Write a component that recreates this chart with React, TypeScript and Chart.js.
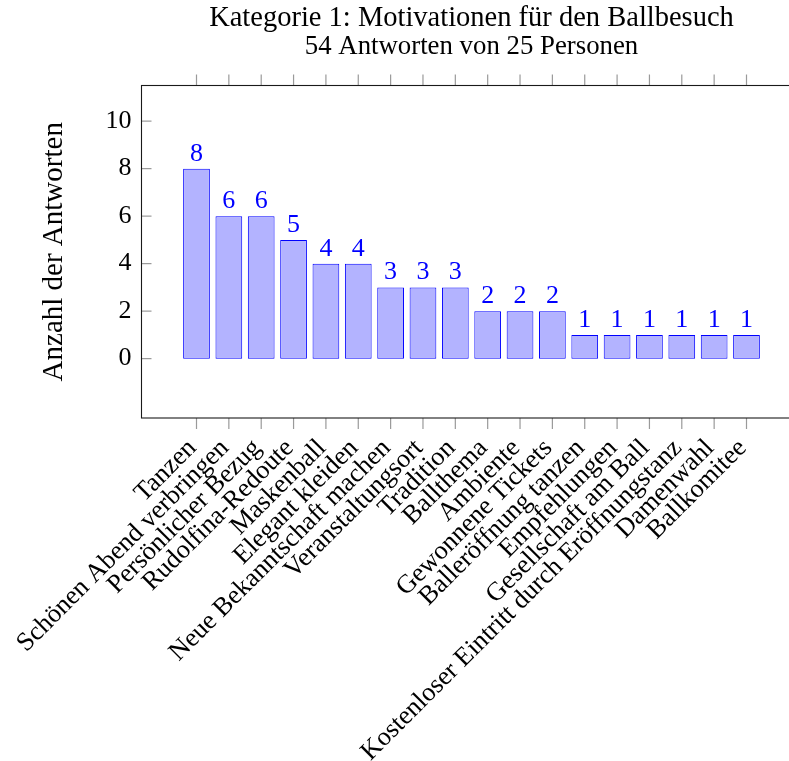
import React, { useEffect, useRef } from "react";
import { Chart, registerables } from "chart.js";

Chart.register(...registerables);

const categories: string[] = [
  "Tanzen",
  "Schönen Abend verbringen",
  "Persönlicher Bezug",
  "Rudolfina-Redoute",
  "Maskenball",
  "Elegant kleiden",
  "Neue Bekanntschaft machen",
  "Veranstaltungsort",
  "Tradition",
  "Ballthema",
  "Ambiente",
  "Gewonnene Tickets",
  "Balleröffnung tanzen",
  "Empfehlungen",
  "Gesellschaft am Ball",
  "Kostenloser Eintritt durch Eröffnungstanz",
  "Damenwahl",
  "Ballkomitee",
];

const answers: number[] = [8, 6, 6, 5, 4, 4, 3, 3, 3, 2, 2, 2, 1, 1, 1, 1, 1, 1];

const yTickValues: number[] = [0, 2, 4, 6, 8, 10];

const titleText = "Kategorie 1: Motivationen für den Ballbesuch";
const subtitleText = "54 Antworten von 25 Personen";
const yAxisTitle = "Anzahl der Antworten";

const FONT = "'Liberation Serif', 'DejaVu Serif', serif";

const decorPlugin = {
  id: "decor",
  afterDatasetsDraw(chart: any) {
    const { ctx, chartArea: a, scales } = chart;
    const xs = scales.x;
    const ys = scales.y;
    ctx.save();
    ctx.strokeStyle = "#9a9a9a";
    ctx.lineWidth = 1.2;
    const line = (x1: number, y1: number, x2: number, y2: number) => {
      ctx.beginPath();
      ctx.moveTo(x1, y1);
      ctx.lineTo(x2, y2);
      ctx.stroke();
    };
    for (const t of xs.ticks) {
      const px = xs.getPixelForValue(t.value);
      line(px, a.top - 11, px, a.top);
      line(px, a.bottom, px, a.bottom + 11);
    }
    for (const t of ys.ticks) {
      const py = ys.getPixelForValue(t.value);
      line(a.left, py, a.left + 10, py);
      line(a.right - 10, py, a.right, py);
    }
    ctx.strokeStyle = "#1a1a1a";
    ctx.lineWidth = 1.1;
    ctx.strokeRect(a.left, a.top, a.right - a.left, a.bottom - a.top);

    const meta = chart.getDatasetMeta(0);
    ctx.fillStyle = "rgb(0,0,255)";
    ctx.font = `26px ${FONT}`;
    ctx.textAlign = "center";
    ctx.textBaseline = "alphabetic";
    meta.data.forEach((bar: any, i: number) => {
      ctx.fillText(String(answers[i]), bar.x, bar.y - 8);
    });
    ctx.restore();
  },
};

export default function App() {
  const ref = useRef<HTMLCanvasElement | null>(null);

  useEffect(() => {
    if (!ref.current) return;
    const chart = new Chart(ref.current, {
      type: "bar",
      data: {
        datasets: [
          {
            data: answers.map((v, i) => ({ x: i, y: v })),
            backgroundColor: "rgb(179,179,255)",
            borderColor: "rgb(0,0,255)",
            borderWidth: 1,
            borderSkipped: false,
            categoryPercentage: 1,
            barPercentage: 0.826,
            yAxisID: "y",
          },
        ],
      },
      options: {
        responsive: false,
        animation: false,
        layout: { padding: 0 },
        plugins: {
          legend: { display: false },
          tooltip: { enabled: false },
          title: {
            display: true,
            text: titleText,
            color: "#000",
            font: { family: FONT, size: 28.5, weight: "normal", lineHeight: 1.0 },
            padding: { top: 4.6, bottom: 0 },
          },
          subtitle: {
            display: true,
            text: subtitleText,
            color: "#000",
            font: { family: FONT, size: 26.8, weight: "normal", lineHeight: 1.0 },
            padding: { top: 0, bottom: 25.6 },
          },
        },
        scales: {
          x: {
            type: "linear",
            min: -1.7,
            max: 18.7,
            offset: false,
            grid: { display: false, drawTicks: false, offset: false },
            border: { display: false },
            ticks: {
              stepSize: 1,
              autoSkip: false,
              includeBounds: false,
              minRotation: 45,
              maxRotation: 45,
              padding: 15,
              labelOffset: -4,
              color: "#000",
              font: { family: FONT, size: 26.3 },
              callback: (v: any) => categories[v as number] ?? "",
            },
            afterBuildTicks: (scale: any) => {
              scale.ticks = categories.map((_, i) => ({ value: i }));
            },
            afterFit: (scale: any) => {
              scale.height = 761 - 418;
              scale.paddingLeft = 0;
              scale.paddingRight = 0;
            },
          },
          y: {
            type: "linear",
            position: "left",
            min: -2.5,
            max: 11.5,
            grid: { display: false, drawTicks: false },
            border: { display: false },
            ticks: {
              stepSize: 2,
              includeBounds: false,
              padding: 10,
              color: "#000",
              font: { family: FONT, size: 26 },
            },
            afterBuildTicks: (scale: any) => {
              scale.ticks = yTickValues.map((v) => ({ value: v }));
            },
            afterFit: (scale: any) => {
              scale.width = 141.5;
              scale.paddingTop = 0;
              scale.paddingBottom = 0;
            },
            title: {
              display: true,
              text: yAxisTitle,
              color: "#000",
              font: { family: FONT, size: 29 },
              padding: { top: 37, bottom: 0 },
            },
          },
          yRight: {
            type: "linear",
            position: "right",
            min: -2.5,
            max: 11.5,
            grid: { display: false, drawTicks: false },
            border: { display: false },
            ticks: { display: false },
            afterFit: (scale: any) => {
              scale.width = 141.5;
              scale.paddingTop = 0;
              scale.paddingBottom = 0;
            },
          },
        },
      },
      plugins: [decorPlugin],
    });
    return () => chart.destroy();
  }, []);

  return (
    <div
      style={{
        position: "fixed",
        left: 0,
        top: 0,
        width: 789,
        height: 761,
        overflow: "hidden",
        background: "#fff",
      }}
    >
      <canvas ref={ref} width={943} height={761} style={{ display: "block" }} />
    </div>
  );
}
